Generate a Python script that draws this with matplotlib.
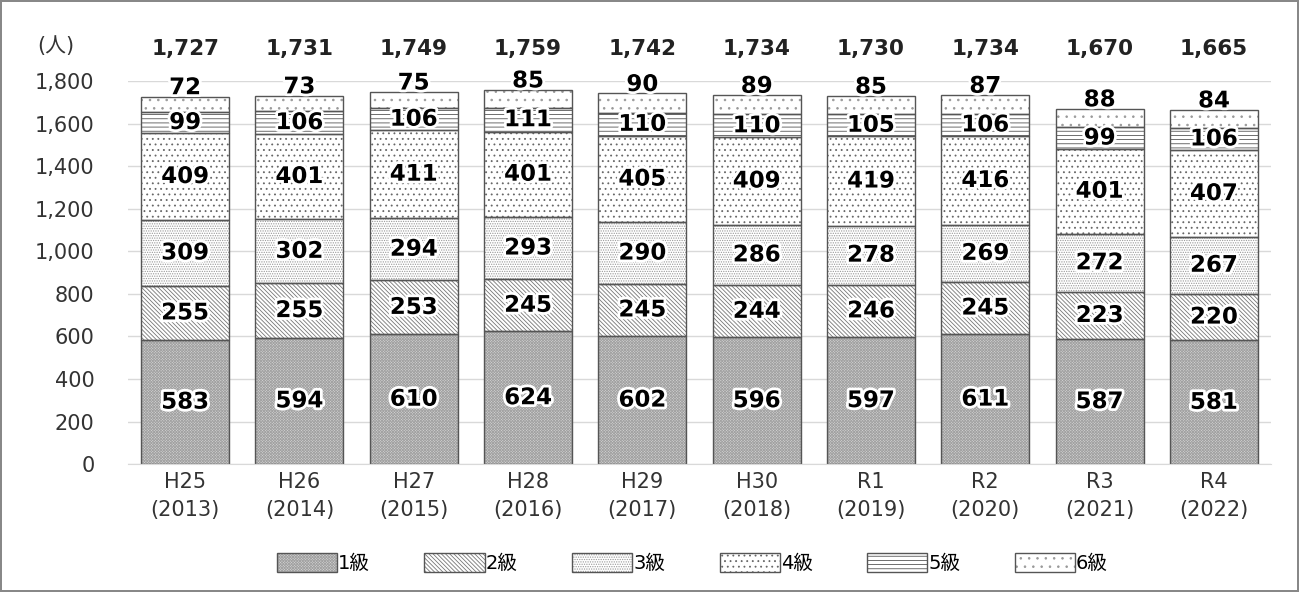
import numpy as np
import matplotlib.pyplot as plt
import matplotlib.patheffects as pe
from matplotlib.patches import Patch

plt.rcParams['font.family'] = ['DejaVu Sans', 'Noto Sans CJK JP']
plt.rcParams['hatch.linewidth'] = 0.6

# data
years = ['H25\n(2013)', 'H26\n(2014)', 'H27\n(2015)', 'H28\n(2016)', 'H29\n(2017)',
         'H30\n(2018)', 'R1\n(2019)', 'R2\n(2020)', 'R3\n(2021)', 'R4\n(2022)']
grade1 = [583, 594, 610, 624, 602, 596, 597, 611, 587, 581]
grade2 = [255, 255, 253, 245, 245, 244, 246, 245, 223, 220]
grade3 = [309, 302, 294, 293, 290, 286, 278, 269, 272, 267]
grade4 = [409, 401, 411, 401, 405, 409, 419, 416, 401, 407]
grade5 = [99, 106, 106, 111, 110, 110, 105, 106, 99, 106]
grade6 = [72, 73, 75, 85, 90, 89, 85, 87, 88, 84]
totals = [1727, 1731, 1749, 1759, 1742, 1734, 1730, 1734, 1670, 1665]
series_names = ['1級', '2級', '3級', '4級', '5級', '6級']

series = [grade1, grade2, grade3, grade4, grade5, grade6]
faces = ['#d4d4d4', 'white', 'white', 'white', 'white', 'white']
hatches = ['x' * 12, '\\' * 8, '.' * 7, '.' * 3, '-' * 4, '.' * 2]
hatch_cols = ['#a2a2a2', '#777777', '#999999', '#666666', '#555555', '#999999']

fig = plt.figure(figsize=(12.99, 5.92), dpi=100)
fig.patch.set_edgecolor('#888888')
fig.patch.set_linewidth(1.5)
ax = fig.add_axes([0.0985, 0.216, 0.88, 0.647])

x = np.arange(len(years))
bottom = np.zeros(len(years))
halo = [pe.withStroke(linewidth=4, foreground='white')]
for i, vals in enumerate(series):
    vals = np.array(vals)
    # hatch layer
    ax.bar(x, vals, 0.77, bottom=bottom, color=faces[i], edgecolor=hatch_cols[i],
           hatch=hatches[i], linewidth=0, zorder=2)
    # outline layer
    ax.bar(x, vals, 0.77, bottom=bottom, facecolor='none', edgecolor='#555555',
           linewidth=1, zorder=2.5)
    for xi, b, v in zip(x, bottom, vals):
        if i < 5:
            ax.text(xi, b + v / 2, f'{v}', ha='center', va='center', fontsize=16.5,
                    fontweight='bold', path_effects=halo, zorder=3)
        else:
            ax.text(xi, b + v + 42, f'{v}', ha='center', va='center', fontsize=16.5,
                    fontweight='bold', path_effects=halo, zorder=3, clip_on=False)
    bottom += vals

for xi, t in zip(x, totals):
    ax.text(xi, 1950, f'{t:,}', ha='center', va='center', fontsize=15.5,
            fontweight='bold', color='#222222', clip_on=False)

ax.set_ylim(0, 1800)
ax.set_xlim(-0.5, len(years) - 0.5)
ax.set_yticks(np.arange(0, 1801, 200))
ax.set_yticklabels([f'{v:,}' for v in range(0, 1801, 200)], fontsize=15, color='#333333')
ax.set_xticks(x)
ax.set_xticklabels(years, fontsize=15, color='#333333', linespacing=1.45)
ax.tick_params(axis='x', length=0, pad=6)
ax.tick_params(axis='y', length=0, pad=24)
ax.grid(axis='y', color='#d9d9d9', linewidth=1, zorder=0)
ax.set_axisbelow(True)
for s in ax.spines.values():
    s.set_visible(False)
ax.spines['bottom'].set_visible(True)
ax.spines['bottom'].set_color('#d9d9d9')

fig.text(0.029, 0.922, '(人)', fontsize=15, color='#333333', ha='left', va='center')

# legend handles: hatched patches with outline
handles = [Patch(facecolor=faces[i], edgecolor=hatch_cols[i], hatch=hatches[i], linewidth=0)
           for i in range(6)]
outl = [Patch(facecolor='none', edgecolor='#555555', linewidth=1) for i in range(6)]
fig.legend([(h, o) for h, o in zip(handles, outl)], series_names,
           loc='center', bbox_to_anchor=(0.533, 0.049), ncol=6, frameon=False,
           fontsize=14, handlelength=3.1, handleheight=1.1, handletextpad=0.05,
           columnspacing=2.8)

fig.savefig('out.png', dpi=100)
